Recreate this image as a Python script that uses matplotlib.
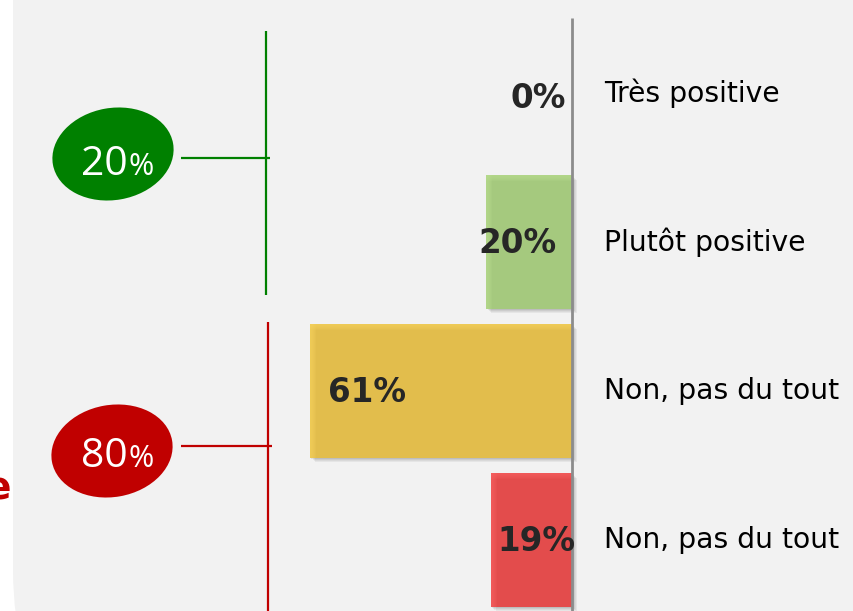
import matplotlib
matplotlib.use("Agg")
import matplotlib.pyplot as plt
from matplotlib.patches import Ellipse, FancyBboxPatch

# ---- data ----
categories = ["Très positive", "Plutôt positive", "Non, pas du tout", "Non, pas du tout"]
values = [0, 20, 61, 19]
value_labels = ["0%", "20%", "61%", "19%"]
bar_colors = ["#a5c97e", "#a5c97e", "#e2bd4c", "#e34c4c"]
bar_highlights = ["#b9de90", "#b9de90", "#f7d35e", "#f96262"]
group_totals = ["20", "80"]
group_colors = ["#008000", "#c00000"]

W, H = 854, 611
fig = plt.figure(figsize=(W / 100, H / 100), dpi=100)
fig.patch.set_facecolor("white")

# decoration layer in pixel units (y downwards)
deco = fig.add_axes([0, 0, 1, 1], zorder=0)
deco.set_xlim(0, W)
deco.set_ylim(H, 0)
deco.axis("off")

# light grey panel with a rounded lower-left corner
deco.add_patch(FancyBboxPatch((13, -400), 1200, 1170,
                              boxstyle="round,pad=0,rounding_size=200",
                              facecolor="#f2f2f2", edgecolor="none"))

# end of the title running in from the left margin
deco.text(11, 489, "e", color="#c00000", fontsize=27, fontweight="bold",
          ha="right", va="center", family="DejaVu Sans")

# bar layer: percentages grow leftwards from the axis line
ax = fig.add_axes([0, 0, 1, 1], zorder=1)
ax.patch.set_alpha(0)
ax.axis("off")
px_per_pct = 4.3
row_px = 149.0
x0_px, y0_px = 572.5, 93.0
ax.set_xlim(x0_px / px_per_pct, -(W - x0_px) / px_per_pct)
ax.set_ylim((H - y0_px) / row_px, -y0_px / row_px)

rows = list(range(len(values)))
bh = 0.893

# soft drop shadow
for k, a in enumerate([0.05, 0.05, 0.06, 0.07]):
    off = (4 - k) * 1.2
    ax.barh([r + off / row_px for r in rows], values, height=bh,
            left=-off / px_per_pct, color="black", alpha=a, linewidth=0)

ax.barh(rows, values, height=bh, color=bar_colors, linewidth=0)

# bevel highlight along the top and the outer edge
for k in range(6):
    hgt = (6 - k) / row_px
    ax.barh([r - bh / 2 + hgt / 2 for r in rows], values, height=hgt,
            color=bar_highlights, alpha=0.18, linewidth=0)
    wpx = (6 - k) / px_per_pct
    ax.barh(rows, [wpx if v > 0 else 0 for v in values], height=bh,
            left=[v - wpx for v in values], color=bar_highlights,
            alpha=0.18, linewidth=0)

# central axis line
ax.plot([0, 0], [-(y0_px - 18) / row_px, (H - y0_px) / row_px + 0.1],
        color="#8c8c8c", lw=2, solid_capstyle="butt", zorder=5)

# value labels: (x in px, alignment, vertical nudge in px)
label_place = [(566, "right", 6), (517.5, "center", 1.5),
               (328, "left", 1.5), (536.5, "center", 1.5)]
for r, lab, (lx, ha, dy) in zip(rows, value_labels, label_place):
    ax.text((x0_px - lx) / px_per_pct, r + dy / row_px, lab, ha=ha,
            va="center", fontsize=23.5, fontweight="bold", color="#262626",
            family="DejaVu Sans", zorder=6)

# category labels to the right of the axis
for r, c in zip(rows, categories):
    ax.text(-(604 - x0_px) / px_per_pct, r, c, ha="left", va="center",
            fontsize=20.3, color="black", family="DejaVu Sans")

# group brackets with totals in ellipses
centers = [(113, 154), (112, 451)]
vlines = [(266, 31, 295), (268, 322, 640)]
links = [158, 446]
baselines = [175, 467]
for (cx, cy), (vx, vy1, vy2), ly, by, tot, col in zip(
        centers, vlines, links, baselines, group_totals, group_colors):
    deco.add_patch(Ellipse((cx, cy), 122, 92, angle=-10, facecolor=col,
                           edgecolor="none", zorder=3))
    deco.plot([vx, vx], [vy1, vy2], color=col, lw=1.6, solid_capstyle="butt")
    deco.plot([181, vx + 4], [ly, ly], color=col, lw=1.6,
              solid_capstyle="butt")
    deco.text(128, by, tot, color="white", fontsize=29.5, ha="right",
              va="baseline", family="Open Sans", zorder=4)
    deco.text(128, by, "%", color="white", fontsize=22, ha="left",
              va="baseline", family="Open Sans", zorder=4)

fig.savefig("out.png", dpi=100, facecolor=fig.get_facecolor())
